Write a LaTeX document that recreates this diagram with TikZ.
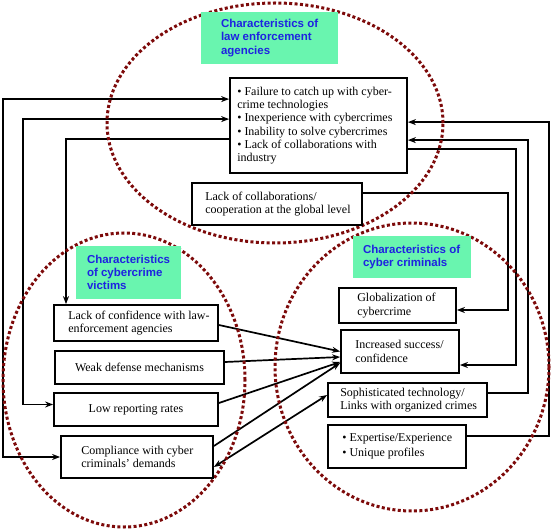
\documentclass[tikz,border=0pt]{standalone}
\usepackage{fontspec}
\setmainfont{Liberation Serif}
\newfontfamily\titlefont{Liberation Sans}
\usetikzlibrary{arrows.meta}
\definecolor{dotred}{RGB}{125,10,10}
\definecolor{mint}{RGB}{105,245,175}
\definecolor{titleblue}{RGB}{30,35,225}
\pgfdeclarelayer{lines}
\pgfdeclarelayer{rings}
\pgfsetlayers{lines,rings,main}
\tikzset{
  box/.style={draw, line width=1.8pt, fill=white, inner sep=0pt},
  txt/.style={inner sep=0pt, align=left, font=\fontsize{12}{13.3}\selectfont},
  ctxt/.style={inner sep=0pt, align=center, font=\fontsize{12}{13.3}\selectfont},
  ttl/.style={fill=mint, inner sep=0pt},
  ttltxt/.style={inner sep=0pt, align=left, text=titleblue, font=\titlefont\bfseries\fontsize{11.5}{13.3}\selectfont},
  conn/.style={line width=1.7pt, -{Stealth[length=8pt,width=6pt]}},
  dbl/.style={line width=1.7pt, {Stealth[length=8pt,width=6pt]}-{Stealth[length=8pt,width=6pt]}},
  ring/.style={draw=dotred, line width=3pt, dash pattern=on 3pt off 2.4pt}
}
\begin{document}
\begin{tikzpicture}[x=1pt,y=-1pt]
\useasboundingbox (0,0) rectangle (551,529);

% rings
\begin{pgfonlayer}{rings}
\draw[ring] (275,123) ellipse [x radius=168pt, y radius=120pt];
\draw[ring] (124,380) ellipse [x radius=121pt, y radius=147pt];
\draw[ring] (412,367) ellipse [x radius=137pt, y radius=144pt];
\end{pgfonlayer}

% titles
\node[ttl, minimum width=137pt, minimum height=52pt] (t1) at (269.5,38) {};
\node[ttltxt, anchor=west] (t1t) at ([xshift=20pt]t1.west) {Characteristics of\\law enforcement\\agencies};
\node[ttl, minimum width=105pt, minimum height=53pt] (t2) at (128.5,272.5) {};
\node[ttltxt, anchor=west] (t2t) at ([xshift=11pt]t2.west) {Characteristics\\of cybercrime\\victims};
\node[ttl, minimum width=118pt, minimum height=42pt] (t3) at (412,257) {};
\node[ttltxt, anchor=west] (t3t) at ([xshift=10pt]t3.west) {Characteristics of\\cyber criminals};

% boxes
\node[box, minimum width=177pt, minimum height=95pt] (le) at (318.5,125.5) {};
\node[txt, anchor=west] (let) at ([xshift=8pt]le.west) {\textbullet{} Failure to catch up with cyber-\\crime technologies\\\textbullet{} Inexperience with cybercrimes\\\textbullet{} Inability to solve cybercrimes\\\textbullet{} Lack of collaborations with\\industry};

\node[box, minimum width=170pt, minimum height=42pt] (glob) at (277,204) {};
\node[txt, anchor=west] (globt) at ([xshift=14pt]glob.west) {Lack of collaborations/\\cooperation at the global level};

\node[box, minimum width=164pt, minimum height=36pt] (conf) at (136,323) {};
\node[txt, anchor=west] (conft) at ([xshift=15pt]conf.west) {Lack of confidence with law-\\enforcement agencies};

\node[box, minimum width=169pt, minimum height=33pt] (weak) at (139.5,367.5) {};
\node[ctxt] (weakt) at (weak.center) {Weak defense mechanisms};

\node[box, minimum width=164pt, minimum height=33pt] (low) at (136,409.5) {};
\node[ctxt] (lowt) at (low.center) {Low reporting rates};

\node[box, minimum width=152pt, minimum height=42pt] (comp) at (137,457) {};
\node[txt, anchor=west] (compt) at ([xshift=21pt]comp.west) {Compliance with cyber\\criminals' demands};

\node[box, minimum width=117pt, minimum height=35pt] (globz) at (397.5,305.5) {};
\node[txt, anchor=west] (globzt) at ([xshift=19pt]globz.west) {Globalization of\\cybercrime};

\node[box, minimum width=118pt, minimum height=43pt] (inc) at (400,351.5) {};
\node[txt, anchor=west] (inct) at ([xshift=15pt]inc.west) {Increased success/\\confidence};

\node[box, minimum width=159pt, minimum height=34pt] (soph) at (407.5,400) {};
\node[txt, anchor=west] (sopht) at ([xshift=13pt]soph.west) {Sophisticated technology/\\Links with organized crimes};

\node[box, minimum width=138pt, minimum height=43pt] (exp) at (397,446.5) {};
\node[txt, anchor=west] (expt) at ([xshift=15pt]exp.west) {\textbullet{} Expertise/Experience\\[1.7pt]\textbullet{} Unique profiles};

% helper coordinates
\coordinate (xa) at (3,0);
\coordinate (xb) at (23,0);
\coordinate (xc) at (66,0);
\coordinate (xd) at (549,0);
\coordinate (xe) at (528,0);
\coordinate (xf) at (516,0);
\coordinate (xg) at (508,0);
\coordinate (l1) at ([yshift=-22pt]le.north west);
\coordinate (l2) at ([yshift=-42pt]le.north west);
\coordinate (l3) at ([yshift=-62pt]le.north west);
\coordinate (r1) at ([yshift=-45pt]le.north east);
\coordinate (r2) at ([yshift=-63pt]le.north east);
\coordinate (r3) at ([yshift=-72pt]le.north east);
\coordinate (lowin) at ([yshift=5pt]low.west);
\coordinate (expout) at ([yshift=10.5pt]exp.east);
\coordinate (sophout) at ([yshift=7pt]soph.east);
\coordinate (incin) at ([yshift=-13.5pt]inc.east);
\coordinate (globout) at ([yshift=11pt]glob.east);
\coordinate (globzin) at ([yshift=-4.5pt]globz.east);

% connectors
\begin{pgfonlayer}{lines}
\draw[dbl] (l1) -- (l1 -| xa) -- (xa |- comp.west) -- (comp.west);
\draw[dbl] (l2) -- (l2 -| xb) -- (xb |- lowin) -- (lowin);
\draw[conn] (l3) -- (l3 -| xc) -- (xc |- conf.north);
\draw[conn] (expout) -- (expout -| xd) -- (xd |- r1) -- (r1);
\draw[conn] (sophout) -- (sophout -| xe) -- (xe |- r2) -- (r2);
\draw[conn] (r3) -- (r3 -| xf) -- (xf |- incin) -- (incin);
\draw[conn] (globout) -- (globout -| xg) -- (xg |- globzin) -- (globzin);
\draw[conn] ([yshift=-2pt]conf.east) -- (inc.west);
\draw[conn] ([yshift=5.5pt]weak.east) -- ([yshift=-5.5pt]inc.west);
\draw[conn] ([yshift=6.5pt]low.east) -- ([yshift=-10.5pt]inc.west);
\draw[conn] ([yshift=11pt]comp.east) -- ([yshift=-11.5pt]inc.west);
\draw[dbl] ([yshift=-10pt]comp.east) -- ([yshift=5pt]soph.west);
\end{pgfonlayer}
\end{tikzpicture}
\end{document}
